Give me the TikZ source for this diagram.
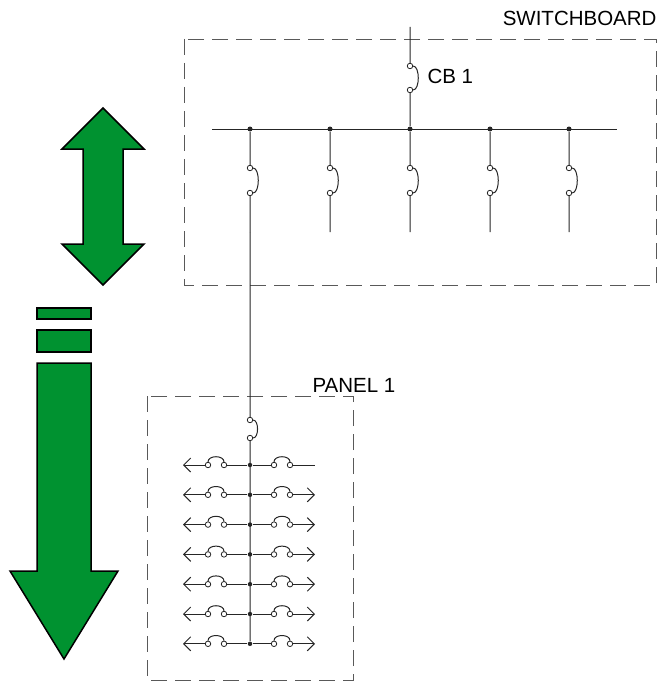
\documentclass[tikz,border=0pt]{standalone}
\usepackage{fontspec}
\setmainfont{Liberation Sans}
\usetikzlibrary{arrows.meta}
\definecolor{arrowgreen}{RGB}{0,146,48}

\begin{document}
\begin{tikzpicture}[x=1pt, y=-1pt, line width=1pt,
	wire/.style={draw=black!85},
	feeder/.style={wire,-{Straight Barb[length=7pt,width=14pt]}},
	term node/.style={circle,draw=black!85,fill=white,line width=0.8pt,minimum size=5.5pt,inner sep=0pt},
	tap node/.style={circle,fill=black!85,minimum size=5pt,inner sep=0pt},
	board/.style={draw=black!65,dash pattern=on 16pt off 8pt,line width=0.9pt},
	label node/.style={inner sep=0pt,font=\fontsize{20.5}{24}\selectfont},
	big arrow/.style={fill=arrowgreen,draw=black,line width=1.5pt,line join=miter}]
	
	\useasboundingbox (0,0) rectangle (660,682);
	
	% green arrows
	\draw[big arrow] (103,108) -- (144,149) -- (123,149) -- (123,244) -- (144,244)
	-- (103,285) -- (62,244) -- (83,244) -- (83,149) -- (62,149) -- cycle;
	\draw[big arrow] (37,308) rectangle (91,319);
	\draw[big arrow] (37,330) rectangle (91,352);
	\draw[big arrow] (37,363) -- (91,363) -- (91,571) -- (118,571) -- (64,659)
	-- (10,571) -- (37,571) -- cycle;
	
	% switchboard
	\draw[board] (184,39) rectangle (656,285);
	\node[label node, anchor=base east] (sb) at (657,26) {SWITCHBOARD};
	
	\coordinate (feed) at (410,27);
	\node[term node] (cbA) at (410,66) {};
	\node[term node] (cbB) at (410,90) {};
	\node[label node, anchor=base west] (cb) at (427,84) {CB 1};
	\coordinate (busL) at (212,129);
	\coordinate (busR) at (617,129);
	\draw[wire] (busL) -- (busR);
	
	\foreach \n/\x in {1/250,2/330,3/410,4/490,5/569}{
		\node[tap node] (tap\n) at (\x,129) {};
		\node[term node] (brA\n) at (\x,168) {};
		\node[term node] (brB\n) at (\x,193) {};
		\coordinate (out\n) at (\x,232);
		\draw[wire] (tap\n) -- (brA\n) .. controls +(10,0) and +(10,0) .. (brB\n) -- (out\n);
	}
	\draw[wire] (feed) -- (cbA) .. controls +(10,0) and +(10,0) .. (cbB) -- (tap3);
	
	% panel
	\draw[board] (147,396) rectangle (353,680);
	\node[label node, anchor=base west] (pn) at (312,392.5) {PANEL 1};
	\node[term node] (pmA) at (250,420) {};
	\node[term node] (pmB) at (250,438) {};
	
	\foreach \k/\rs in {0/wire,1/feeder,2/feeder,3/feeder,4/feeder,5/feeder,6/feeder}{
		\pgfmathsetmacro\y{465+29.8*\k}
		\coordinate (lend\k) at (183,\y);
		\node[term node] (lA\k) at (208,\y) {};
		\node[term node] (lB\k) at (224,\y) {};
		\node[tap node, minimum size=4.5pt] (pt\k) at (250,\y) {};
		\node[term node] (rA\k) at (274,\y) {};
		\node[term node] (rB\k) at (290,\y) {};
		\coordinate (rend\k) at (315,\y);
		\draw[feeder] (lA\k) -- (lend\k);
		\draw[wire] (lA\k) .. controls +(0,-10) and +(0,-10) .. (lB\k);
		\draw[wire] (lB\k) -- (pt\k) -- (rA\k);
		\draw[wire] (rA\k) .. controls +(0,-10) and +(0,-10) .. (rB\k);
		\draw[\rs] (rB\k) -- (rend\k);
	}
	\draw[wire] (out1) -- (pmA) .. controls +(9,0) and +(9,0) .. (pmB) -- (pt6);
\end{tikzpicture}
\end{document}
